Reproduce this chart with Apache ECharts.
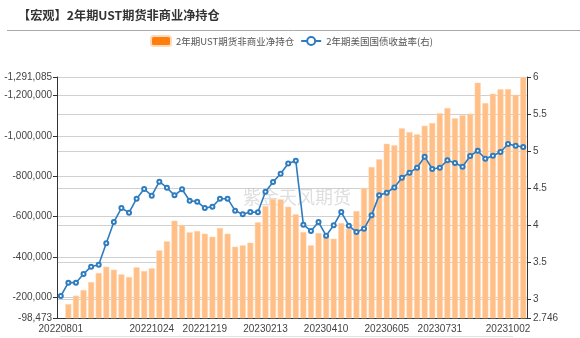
<!DOCTYPE html>
<html>
<head>
<meta charset="utf-8">
<script src="https://cdn.jsdelivr.net/npm/echarts@6/dist/echarts.min.js"></script>
<style>
html,body{margin:0;padding:0;background:#fff;}
#main{width:580px;height:338px;}
</style>
</head>
<body>
<div id="main"></div>
<script>
var titleText = '【宏观】2年期UST期货非商业净持仓';
var barName = '2年期UST期货非商业净持仓';
var lineName = '2年期美国国债收益率(右)';
var watermark = '紫金天风期货';

var dates = [
  '20220801','20220808','20220815','20220822','20220829','20220905','20220912','20220919',
  '20220926','20221003','20221010','20221017','20221024','20221031','20221107','20221114',
  '20221128','20221205','20221212','20221219','20221227','20230103','20230109','20230117',
  '20230123','20230130','20230206','20230213','20230221','20230227','20230306','20230313',
  '20230320','20230327','20230403','20230410','20230417','20230424','20230501','20230508',
  '20230515','20230522','20230530','20230605','20230612','20230620','20230626','20230710',
  '20230717','20230724','20230731','20230807','20230814','20230821','20230828','20230905',
  '20230911','20230918','20230925','20231002','20231010','20231016'
];

var shownLabels = ['20220801','20221024','20221219','20230213','20230410','20230605','20230731','20231002'];

var netPosition = [
  -98473, -167750, -208970, -237030, -276620, -321160, -352500, -337660,
  -314560, -301360, -349220, -331060, -344260, -433340, -477870, -580100,
  -558700, -522600, -529000, -515600, -500800, -543850, -515600, -451300,
  -458100, -471100, -572100, -652700, -687360, -685700, -649300, -611640,
  -524050, -458100, -519100, -500800, -490900, -568600, -540400, -627960,
  -741800, -845700, -883800, -961000, -953100, -1037200, -1018900, -1007500,
  -1050100, -1063500, -1111500, -1137700, -1086700, -1101600, -1109500, -1262900,
  -1162400, -1208400, -1230200, -1231700, -1203500, -1291085
];

var yield2y = [
  3.043, 3.223, 3.223, 3.340, 3.439, 3.466, 3.755, 4.042,
  4.231, 4.168, 4.357, 4.488, 4.397, 4.586, 4.505, 4.402,
  4.484, 4.330, 4.317, 4.231, 4.249, 4.357, 4.357, 4.195,
  4.146, 4.177, 4.173, 4.451, 4.582, 4.694, 4.832, 4.870,
  4.006, 3.921, 4.042, 3.857, 3.998, 4.177, 3.992, 3.907,
  3.950, 4.135, 4.405, 4.438, 4.508, 4.640, 4.708, 4.775,
  4.924, 4.758, 4.775, 4.875, 4.839, 4.789, 4.933, 5.005,
  4.897, 4.937, 4.987, 5.095, 5.072, 5.055
];

var leftMin = -1291085, leftMax = -98473;
var rightMin = 2.746, rightMax = 6;

function fmtNum(v){ return Number(v).toLocaleString('en-US'); }
function showLabel(idx, val){ return shownLabels.indexOf(val) >= 0; }

var chart = echarts.init(document.getElementById('main'), null, {renderer:'canvas'});
var labelFont = 'Liberation Sans, Arial, sans-serif';
chart.setOption({
  animation: false,
  backgroundColor: '#fff',
  title: {
    text: titleText,
    left: 18, top: 9, padding: 0,
    textStyle: {fontSize: 12.2, fontWeight: 'bold', color: '#333', fontFamily: 'Noto Sans CJK SC, sans-serif'}
  },
  legend: {
    left: 150, top: 35, padding: 0,
    itemWidth: 20, itemHeight: 10, itemGap: 6,
    textStyle: {fontSize: 9.5, color: '#555', fontFamily: 'Noto Sans CJK SC, sans-serif'},
    data: [
      {name: barName, icon: 'roundRect', itemStyle: {color: '#FF7F0E', opacity: 1}},
      {name: lineName}
    ]
  },
  grid: {left: 57, right: 53, top: 77, bottom: 20},
  xAxis: {
    type: 'category',
    data: dates,
    boundaryGap: true,
    axisLine: {lineStyle: {color: '#333'}},
    axisTick: {alignWithLabel: true, interval: showLabel, length: 4, lineStyle: {color: '#333'}},
    axisLabel: {interval: showLabel, margin: 6, fontSize: 10, color: '#444', fontFamily: labelFont}
  },
  yAxis: [
    {
      type: 'value', inverse: true, min: leftMin, max: leftMax,
      position: 'left',
      axisLine: {show: true, lineStyle: {color: '#333'}},
      axisTick: {show: true, length: 4, lineStyle: {color: '#333'}},
      axisLabel: {margin: 5, fontSize: 10, color: '#444', fontFamily: labelFont, formatter: fmtNum},
      splitLine: {show: true, lineStyle: {color: '#d0d0d0'}}
    },
    {
      type: 'value', min: rightMin, max: rightMax,
      position: 'right',
      axisLine: {show: true, lineStyle: {color: '#333'}},
      axisTick: {show: true, length: 4, lineStyle: {color: '#333'}},
      axisLabel: {margin: 6, fontSize: 10, color: '#444', fontFamily: labelFont},
      splitLine: {show: true, lineStyle: {color: '#d0d0d0'}}
    }
  ],
  series: [
    {
      name: barName, type: 'bar', yAxisIndex: 0, data: netPosition,
      barCategoryGap: '20%', clip: true,
      itemStyle: {color: '#FFBF86', borderColor: '#FFD9B8', borderWidth: 0.5},
      z: 2
    },
    {
      name: lineName, type: 'line', yAxisIndex: 1, data: yield2y,
      symbol: 'emptyCircle', symbolSize: 4, showSymbol: true,
      lineStyle: {color: '#2E7CBF', width: 1.6},
      itemStyle: {color: '#2E7CBF', borderWidth: 1},
      z: 3
    }
  ],
  graphic: [
    {type: 'line', shape: {x1: 7, y1: 30.5, x2: 580, y2: 30.5}, style: {stroke: '#aaa', lineWidth: 1}, silent: true},
    {type: 'text', left: 243, top: 188, z: 1, silent: true,
     style: {text: watermark, fontSize: 18, fill: 'rgba(160,160,160,0.35)', fontFamily: 'Noto Sans CJK SC, sans-serif'}},
    {type: 'line', shape: {x1: 60, y1: 336.5, x2: 513, y2: 336.5}, style: {stroke: '#e2e2e2', lineWidth: 1}, silent: true}
  ]
});
</script>
</body>
</html>
